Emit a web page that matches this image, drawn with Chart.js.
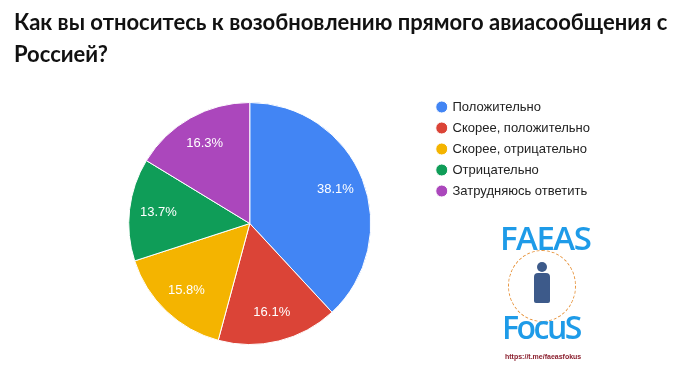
<!DOCTYPE html>
<html>
<head>
<meta charset="utf-8">
<script src="https://cdn.jsdelivr.net/npm/chart.js@4"></script>
<style>
  html, body { margin: 0; padding: 0; background: #fff; }
  #wrap { position: relative; width: 696px; height: 381px; overflow: hidden; }
  #title { position: absolute; left: 14px; top: 6px; width: 690px; font-family: Lato, "Open Sans", sans-serif; font-weight: 700; font-size: 22px; line-height: 31.5px; color: #111; white-space: nowrap; }
  canvas { position: absolute; left: 0; top: 0; }
  .logo-word { position: absolute; font-family: "Open Sans", "DejaVu Sans", sans-serif; font-weight: 600; color: #1e9be8; line-height: 1; white-space: nowrap; }
  #url { position: absolute; left: 505px; top: 353px; font-family: "Liberation Sans", Arial, sans-serif; font-weight: 700; font-size: 7px; color: #8b1f2e; white-space: nowrap; }
  #ring { position: absolute; left: 508px; top: 250px; width: 66px; height: 70px; border: 1.5px dashed #e69138; border-radius: 50%; }
  #head { position: absolute; left: 537px; top: 262px; width: 10px; height: 10px; border-radius: 50%; background: #3d5a8a; }
  #body { position: absolute; left: 534px; top: 273px; width: 16px; height: 30px; border-radius: 4px 4px 2px 2px; background: #3d5a8a; }
</style>
</head>
<body>
<div id="wrap">
  <canvas id="c" width="696" height="381"></canvas>
  <div id="title">Как вы относитесь к возобновлению прямого авиасообщения с<br>Россией?</div>
  <div id="ring"></div>
  <div id="head"></div>
  <div id="body"></div>
  <div class="logo-word" style="left:500px; top:221px; font-size:33px; letter-spacing:-1.5px;">FAEAS</div>
  <div class="logo-word" style="left:502px; top:311px; font-size:32px; letter-spacing:-2.5px;">FocuS</div>
  <div id="url">https://t.me/faeasfokus</div>
</div>
<script>
const categories = ["Положительно", "Скорее, положительно", "Скорее, отрицательно", "Отрицательно", "Затрудняюсь ответить"];
const values = [38.1, 16.1, 15.8, 13.7, 16.3];
const colors = ["#4285F4", "#DB4437", "#F4B400", "#0F9D58", "#AB47BC"];

const sliceLabels = {
  id: 'sliceLabels',
  afterDatasetsDraw(chart) {
    const ctx = chart.ctx;
    const meta = chart.getDatasetMeta(0);
    ctx.save();
    ctx.fillStyle = '#ffffff';
    ctx.font = '13px "Liberation Sans", Arial, sans-serif';
    ctx.textAlign = 'center';
    ctx.textBaseline = 'middle';
    meta.data.forEach((arc, i) => {
      const p = arc.getProps(['x', 'y', 'startAngle', 'endAngle', 'outerRadius'], true);
      const mid = (p.startAngle + p.endAngle) / 2;
      const r = p.outerRadius * 0.76;
      ctx.fillText(values[i].toFixed(1) + '%', p.x + Math.cos(mid) * r, p.y + Math.sin(mid) * r);
    });
    ctx.restore();
  }
};

new Chart(document.getElementById('c'), {
  type: 'pie',
  data: {
    labels: categories,
    datasets: [{
      data: values,
      backgroundColor: colors,
      borderColor: '#ffffff',
      borderWidth: 1,
      radius: 121
    }]
  },
  options: {
    responsive: false,
    animation: false,
    events: [],
    layout: { padding: { top: 92.5, bottom: 26.5, left: 70, right: 96 } },
    plugins: {
      title: { display: false },
      tooltip: { enabled: false },
      legend: {
        position: 'right',
        align: 'start',
        labels: {
          usePointStyle: true,
          pointStyle: 'circle',
          boxWidth: 8.5,
          boxHeight: 8.5,
          padding: 8,
          color: '#222222',
          font: { family: '"Liberation Sans", Arial, sans-serif', size: 13 }
        }
      }
    }
  },
  plugins: [sliceLabels]
});
</script>
</body>
</html>
